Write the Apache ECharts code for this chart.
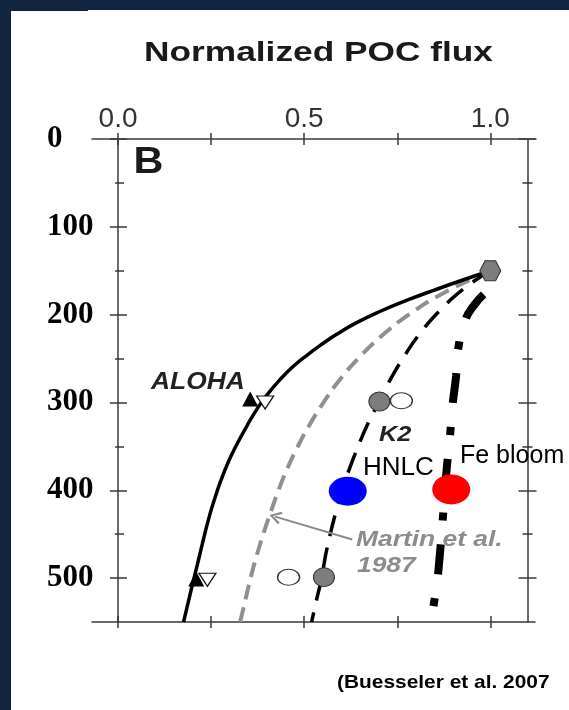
<!DOCTYPE html>
<html><head><meta charset="utf-8">
<script src="https://cdn.jsdelivr.net/npm/echarts@6/dist/echarts.min.js"></script>
<style>html,body{margin:0;padding:0;background:#fff;}#c{width:569px;height:710px;}</style>
</head><body><div id="c"></div>
<script>
// ---- data (normalized POC flux, depth m) ----
const depthTicks = [0, 100, 200, 300, 400, 500];
const depthMinorTicks = [50, 150, 250, 350, 450];
const fluxTicks = [0, 0.25, 0.5, 0.75, 1.0];
const fluxLabels = [0, 0.5, 1.0];

const alohaCurve = [[1.0,150],[0.93,160],[0.85,172],[0.78,183],[0.70,197],[0.637,210],[0.585,223],[0.543,235],[0.508,246],[0.468,260],[0.435,274],[0.403,290],[0.377,305],[0.347,326],[0.32,347],[0.297,367],[0.277,388],[0.26,409],[0.245,430],[0.231,453],[0.218,476],[0.207,495],[0.196,514],[0.186,532],[0.176,550]];
const martinCurve = [[1.0,150],[0.876,175],[0.781,200],[0.706,225],[0.645,250],[0.594,275],[0.552,300],[0.515,325],[0.483,350],[0.455,375],[0.431,400],[0.41,425],[0.39,450],[0.372,475],[0.356,500],[0.342,525],[0.328,550]];
const k2Curve = [[1.0,150],[0.93,170],[0.865,195],[0.81,222],[0.765,250],[0.73,275],[0.70,300],[0.67,325],[0.645,350],[0.622,375],[0.602,400],[0.585,425],[0.57,450],[0.557,475],[0.547,500],[0.533,525],[0.52,550]];
const feBloomCurve = [[0.982,177],[0.955,190],[0.933,206],[0.914,238],[0.908,270],[0.898,305],[0.892,336],[0.884,370],[0.877,405],[0.871,440],[0.864,475],[0.857,505],[0.848,530],[0.843,542]];

const alohaTraps = [[0.355,296],[0.21,501]];
const alohaOther = [[0.395,300],[0.24,502]];
const k2Traps = [[0.702,299],[0.553,499]];
const k2Other = [[0.761,298],[0.458,499]];
const sourcePoint = [[1.0,150]];
const hnlcPoint = [[0.617,401]];
const feBloomPoint = [[0.895,399]];
const martinArrow = [[0.629,456],[0.422,430]];

// ---- chart ----
const AX = '#3a3a3a';
const SANS = '"Liberation Sans", Arial, sans-serif';
const ELLIPSE = 'path://M0,50 A50,50 0 1,1 100,50 A50,50 0 1,1 0,50 Z';
const HEX = 'path://M25,0 L75,0 L100,50 L75,100 L25,100 L0,50 Z';
const CHEVRON = 'path://M5,0 L10,9 L8.4,9.8 L5,3.2 L1.6,9.8 L0,9 Z';

function xAx(pos, inside, showLine, showLabel) {
  return {
    type: 'value', position: pos, min: -0.07, max: 1.12,
    splitLine: {show: false},
    axisLine: {show: showLine, onZero: false, lineStyle: {color: AX, width: 1.5}},
    axisTick: {show: true, inside: inside, length: 6, customValues: fluxTicks, lineStyle: {color: AX, width: 1.5}},
    axisLabel: {show: showLabel, customValues: fluxLabels, formatter: v => v.toFixed(1),
      fontFamily: SANS, fontSize: 28, color: '#333', margin: 6},
  };
}
function yAx(pos, offset, inside, len, ticks, showLine, showLabel) {
  return {
    type: 'value', position: pos, offset: offset, inverse: true, min: 0, max: 550,
    splitLine: {show: false},
    axisLine: {show: showLine, onZero: false, lineStyle: {color: AX, width: 1.5}},
    axisTick: {show: true, inside: inside, length: len, customValues: ticks, lineStyle: {color: AX, width: 1.5}},
    axisLabel: {show: showLabel, customValues: depthTicks, formatter: v => String(v), align: 'left', margin: 71,
      fontFamily: '"Liberation Serif", "Times New Roman", serif', fontWeight: 'bold', fontSize: 31, color: '#000'},
  };
}

function txt(x, y, text, font, color, scaleX, align) {
  return {type: 'text', x: x, y: y, scaleX: scaleX || 1, z: 100,
    style: {text: text, font: font, fill: color, align: align || 'left', verticalAlign: 'middle',
      textAlign: align || 'left', textVerticalAlign: 'middle'}};
}

const chart = echarts.init(document.getElementById('c'), null, {renderer: 'canvas'});
chart.setOption({
  animation: false,
  backgroundColor: '#ffffff',
  grid: {left: 92, right: 34, top: 139, bottom: 88, containLabel: false},
  xAxis: [
    xAx('top', false, true, true),
    xAx('top', true, false, false),
    xAx('bottom', false, true, false),
    xAx('bottom', true, false, false),
  ],
  yAxis: [
    yAx('left', -26, false, 8, depthTicks, true, true),
    yAx('left', -26, true, 9, depthTicks, false, false),
    yAx('left', -26, true, 6, depthMinorTicks, false, false),
    yAx('left', -26, false, 3, depthMinorTicks, false, false),
    yAx('right', -7.5, false, 9, depthTicks, true, false),
    yAx('right', -7.5, true, 9, depthTicks, false, false),
    yAx('right', -7.5, true, 5, depthMinorTicks, false, false),
    yAx('right', -7.5, false, 5, depthMinorTicks, false, false),
  ],
  graphic: [
    {type: 'rect', shape: {x: 0, y: 0, width: 11, height: 710}, style: {fill: '#112440'}, z: 100},
    {type: 'rect', shape: {x: 0, y: 0, width: 569, height: 10}, style: {fill: '#112440'}, z: 100},
    {type: 'rect', shape: {x: 0, y: 0, width: 88, height: 11}, style: {fill: '#112440'}, z: 100},
    txt(318.5, 53, 'Normalized POC flux', 'bold 28px ' + SANS, '#1a1a1a', 1.26, 'center'),
    txt(148.5, 163, 'B', 'bold 37px ' + SANS, '#1a1a1a', 1.12, 'center'),
    txt(151, 382, 'ALOHA', 'italic bold 24px ' + SANS, '#222', 1.1),
    txt(379, 435, 'K2', 'italic bold 22px ' + SANS, '#222', 1.15),
    txt(356, 540, 'Martin et al.', 'italic bold 22px ' + SANS, '#8c8c8c', 1.2),
    txt(357, 566, '1987', 'italic bold 22px ' + SANS, '#8c8c8c', 1.2),
    txt(363, 468, 'HNLC', '26px ' + SANS, '#000', 1),
    txt(460, 456, 'Fe bloom', '25px ' + SANS, '#000', 1),
    txt(337, 683, '(Buesseler et al. 2007', 'bold 19px ' + SANS, '#000', 1.1),
  ],
  series: [
    {name: 'ALOHA', type: 'line', data: alohaCurve, smooth: 0.5, showSymbol: false, z: 3,
      lineStyle: {color: '#000', width: 3.5}},
    {name: 'Martin et al. 1987', type: 'line', data: martinCurve, smooth: 0.5, showSymbol: false, z: 2,
      lineStyle: {color: '#909090', width: 4, type: [15, 8]},
      markLine: {silent: true, symbol: ['none', CHEVRON], symbolSize: [13, 12], label: {show: false},
        lineStyle: {color: '#8a8a8a', width: 2, type: 'solid'},
        data: [[{coord: martinArrow[0]}, {coord: martinArrow[1]}]]}},
    {name: 'K2', type: 'line', data: k2Curve, smooth: 0.5, showSymbol: false, z: 3,
      lineStyle: {color: '#000', width: 3.5, type: [21, 12]}},
    {name: 'Fe bloom', type: 'line', data: feBloomCurve, smooth: 0.5, showSymbol: false, z: 3,
      lineStyle: {color: '#000', width: 8, type: [30, 24, 8, 24], cap: 'butt'}},
    {name: 'ALOHA traps', type: 'scatter', data: alohaTraps, symbol: 'triangle', symbolSize: [16, 15], z: 5,
      itemStyle: {color: '#000', opacity: 1}},
    {name: 'ALOHA other', type: 'scatter', data: alohaOther, symbol: 'triangle', symbolRotate: 180, symbolSize: [17, 13], z: 5,
      itemStyle: {color: '#fff', borderColor: '#111', borderWidth: 1.2, opacity: 1}},
    {name: 'K2 traps', type: 'scatter', data: k2Traps, symbol: ELLIPSE, symbolSize: [21, 19], z: 5,
      itemStyle: {color: '#7d7d7d', borderColor: '#333', borderWidth: 1, opacity: 1}},
    {name: 'K2 other', type: 'scatter', data: k2Other, symbol: ELLIPSE, symbolSize: [22, 16], z: 5,
      itemStyle: {color: '#fff', borderColor: '#333', borderWidth: 1.2, opacity: 1}},
    {name: 'Source', type: 'scatter', data: sourcePoint, symbol: HEX, symbolSize: [21, 20], z: 6,
      itemStyle: {color: '#7d7d7d', borderColor: '#333', borderWidth: 1, opacity: 1}},
    {name: 'HNLC', type: 'scatter', data: hnlcPoint, symbol: ELLIPSE, symbolSize: [38, 29], z: 7,
      itemStyle: {color: '#0000ff', opacity: 1}},
    {name: 'Fe bloom point', type: 'scatter', data: feBloomPoint, symbol: ELLIPSE, symbolSize: [38, 30], z: 7,
      itemStyle: {color: '#ff0000', opacity: 1}},
  ]
});
</script></body></html>
